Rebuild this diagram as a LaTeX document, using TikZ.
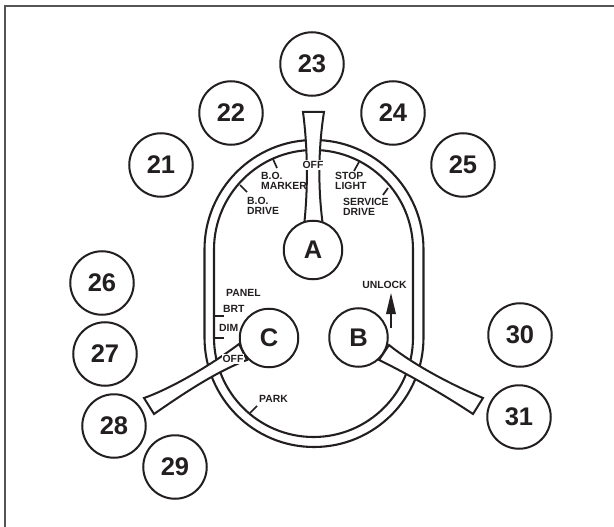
\documentclass[tikz,border=0pt]{standalone}
\usepackage{fontspec}
\setmainfont{Liberation Sans}
\definecolor{ink}{HTML}{231F20}
\definecolor{framegray}{HTML}{555555}
\tikzset{
  callout/.style={circle,draw=ink,line width=2pt,fill=white,minimum size=63.5pt,inner sep=0pt,text=ink,font=\fontsize{25.5}{25}\bfseries\selectfont},
  hub/.style={circle,draw=ink,line width=2pt,fill=white,minimum size=58.5pt,inner sep=0pt,text=ink,font=\fontsize{25.5}{25}\bfseries\selectfont},
  lever/.style={draw=ink,line width=2pt,fill=white,line join=miter},
  rim/.style={draw=ink,line width=2.1pt},
  tick/.style={draw=ink,line width=1.7pt},
  lab/.style={text=ink,inner sep=0pt,anchor=west,align=left,font=\fontsize{10.4}{10}\bfseries\selectfont},
  labc/.style={lab,anchor=center,align=center},
}
\begin{document}
\begin{tikzpicture}[x=1pt,y=-1pt]
\useasboundingbox (0,0) rectangle (614,527);
% frame: only top and left edges are visible
\draw[framegray,line width=1.3pt] (5,527) -- (5,6) -- (614,6);
% double stadium
\draw[rim] (204.5,249.5) arc[start angle=180,end angle=360,radius=109.5] -- (423.5,337.5) arc[start angle=0,end angle=180,radius=109.5] -- cycle;
\draw[rim] (214,249.5) arc[start angle=180,end angle=360,radius=99.5] -- (413,337.5) arc[start angle=0,end angle=180,radius=99.5] -- cycle;
% ticks
\draw[tick] (240,185) -- (247,192);
\draw[tick] (273,159) -- (277,168);
\draw[tick] (359,162) -- (354,171);
\draw[tick] (388,188) -- (383,195);
\draw[tick] (215,316) -- (224,316);
\draw[tick] (215,338) -- (224,338);
\draw[tick] (257,406) -- (250,413);
% levers
\draw[lever] (303,112) -- (324,112) .. controls (318,150) and (318,190) .. (323,226) -- (304,226) .. controls (308,190) and (308,150) .. (303,112) -- cycle;
\draw[lever] (144,398) .. controls (175,387) and (215,362) .. (239,344) -- (247,360) .. controls (215,372) and (180,396) .. (154,414) -- cycle;
\draw[lever] (389,345) .. controls (410,362) and (445,382) .. (483,398) -- (473,414) .. controls (440,392) and (400,370) .. (379,360) -- cycle;
% hubs
\node[hub] (A) at (313,250) {A};
\node[hub] (C) at (269,338) {C};
\node[hub] (B) at (358.5,337.5) {B};
% callouts
\node[callout] (n21) at (161,165) {21};
\node[callout] (n22) at (231,113) {22};
\node[callout] (n23) at (312,64) {23};
\node[callout] (n24) at (393,113) {24};
\node[callout] (n25) at (463,165) {25};
\node[callout] (n26) at (102,283) {26};
\node[callout] (n27) at (105,354) {27};
\node[callout] (n28) at (114,426) {28};
\node[callout] (n29) at (175,467) {29};
\node[callout] (n30) at (520,335) {30};
\node[callout] (n31) at (519,417) {31};
% labels
\node[labc,fill=white,inner sep=1pt] (offa) at (313,165) {OFF};
\node[lab] (marker) at (261,181) {B.O.\\MARKER};
\node[lab] (drive) at (247,205.5) {B.O.\\DRIVE};
\node[lab] (stop) at (335,181) {STOP\\LIGHT};
\node[lab] (service) at (343,207) {SERVICE\\DRIVE};
\node[lab] (panel) at (226,293) {PANEL};
\node[lab] (brt) at (223,309) {BRT};
\node[lab] (dim) at (219,328) {DIM};
\node[labc,fill=white,inner sep=1pt] (offc) at (233,359) {OFF};
\node[lab] (park) at (259,399) {PARK};
\node[labc] (unlock) at (384.5,285) {UNLOCK};
% unlock arrow
\coordinate (tailu) at (391,328);
\coordinate (tipu) at (391,293);
\draw[ink,line width=1.8pt] (tailu) -- (391,312);
\fill[ink] (tipu) -- (396,314) -- (386,314) -- cycle;
\end{tikzpicture}
\end{document}
